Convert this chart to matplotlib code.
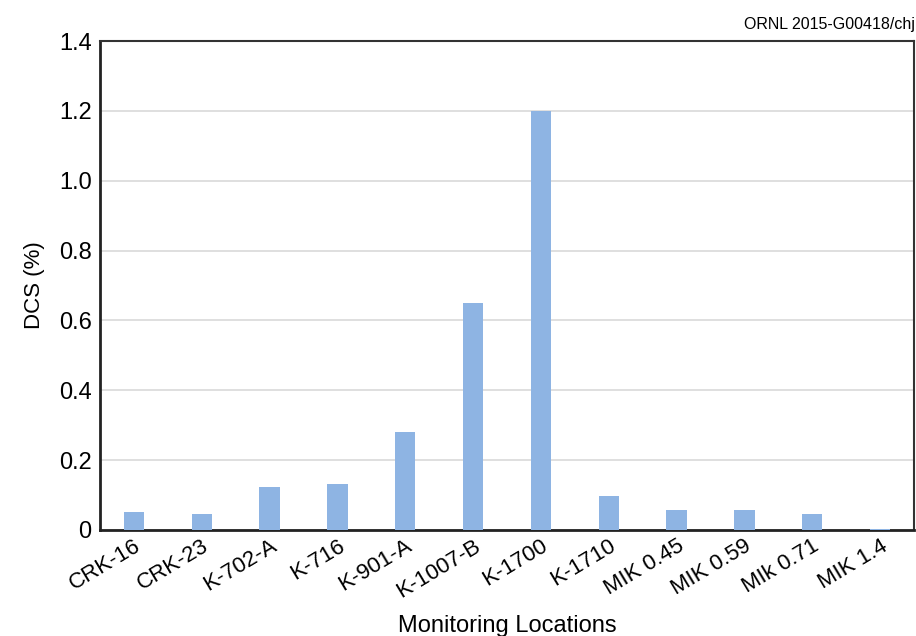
import matplotlib
matplotlib.use("Agg")
import matplotlib.pyplot as plt

locations = ["CRK-16", "CRK-23", "K-702-A", "K-716", "K-901-A", "K-1007-B",
             "K-1700", "K-1710", "MIK 0.45", "MIK 0.59", "MIk 0.71", "MIK 1.4"]
dcs_percent = [0.052, 0.047, 0.123, 0.133, 0.28, 0.65, 1.2, 0.096, 0.058, 0.058, 0.046, 0.004]
y_ticks = [0, 0.2, 0.4, 0.6, 0.8, 1.0, 1.2, 1.4]
y_tick_labels = ["0", "0.2", "0.4", "0.6", "0.8", "1.0", "1.2", "1.4"]

plt.rcParams['font.family'] = ['Liberation Sans', 'DejaVu Sans']

fig = plt.figure(figsize=(9.16, 6.36), dpi=100)
ax = fig.add_axes([0.1092, 0.1667, 0.8886, 0.7688])

x = list(range(len(locations)))
ax.bar(x, dcs_percent, width=0.3, color="#8EB4E3", zorder=3)

ax.set_xlim(-0.5, len(locations) - 0.5)
ax.set_ylim(0, 1.4)
ax.set_yticks(y_ticks)
ax.set_yticklabels(y_tick_labels, fontsize=17)
ax.set_xticks(x)
ax.set_xticklabels(locations, fontsize=16, rotation=31, ha='right', rotation_mode='anchor')
ax.tick_params(axis='both', length=0, pad=6)
ax.tick_params(axis='x', pad=4)
ax.yaxis.grid(True, color="#D9D9D9", linewidth=1.2, zorder=0)
ax.set_axisbelow(True)

for side in ['left', 'bottom']:
    ax.spines[side].set_linewidth(2)
    ax.spines[side].set_color('#222222')
for side in ['top', 'right']:
    ax.spines[side].set_linewidth(1.5)
    ax.spines[side].set_color('#333333')

ax.set_ylabel("DCS (%)", fontsize=16, labelpad=10)
ax.set_xlabel("Monitoring Locations", fontsize=17, labelpad=9)

fig.text(0.999, 0.962, "ORNL 2015-G00418/chj", fontsize=11.5, ha='right', va='center')

fig.savefig("out.png", dpi=100)
